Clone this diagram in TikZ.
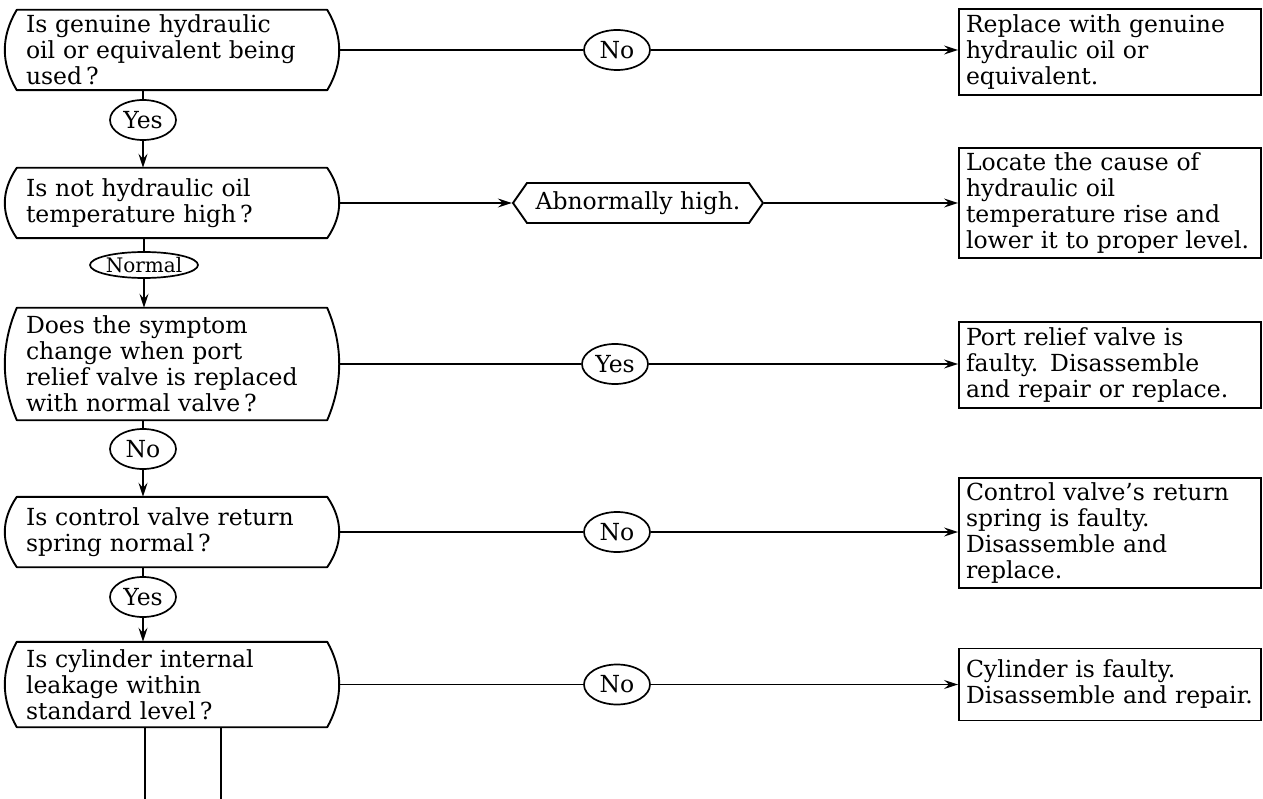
\documentclass[tikz,border=0pt]{standalone}
\usepackage{fontspec}
\setmainfont{DejaVu Serif}
\usetikzlibrary{arrows.meta,shapes.geometric,shapes.symbols,calc}
\newcommand\qoutline[1]{%
  \draw[qline] ($(#1.north west)+(12,0)$) -- ($(#1.north east)+(-12,0)$)
    .. controls ($(#1.north east)!0.333!(#1.south east)+(4,0)$) and ($(#1.north east)!0.667!(#1.south east)+(4,0)$) .. ($(#1.south east)+(-12,0)$)
    -- ($(#1.south west)+(12,0)$)
    .. controls ($(#1.south west)!0.333!(#1.north west)+(-4,0)$) and ($(#1.south west)!0.667!(#1.north west)+(-4,0)$) .. cycle;}
\begin{document}
\begin{tikzpicture}[x=1pt,y=-1pt,
  every node/.style={inner sep=0pt},
  txt/.style={font=\fontsize{23.5}{26}\selectfont},
  qbox/.style={txt, minimum width=334pt, text width=292pt, align=left},
  qline/.style={line width=1.9pt, line join=round},
  rbox/.style={txt, draw, line width=1.9pt, text width=288pt, inner xsep=7pt, align=left},
  oval/.style={txt, draw, ellipse, line width=1.7pt, minimum width=66pt, minimum height=40pt},
  conn/.style={line width=1.7pt},
  arr/.style={line width=1.7pt, -{Stealth[length=14pt,width=9pt,inset=5pt,open]}}
]
\fill[white] (0,0) rectangle (1263,799);
\useasboundingbox (0,0) rectangle (1263,799);

% question boxes
\node[qbox, minimum height=80pt] (q1) at (172,50) {Is genuine hydraulic\\oil or equivalent being\\used\,?};
\node[qbox, minimum height=70pt] (q2) at (172,203) {Is not hydraulic oil\\temperature high\,?};
\node[qbox, minimum height=112pt] (q3) at (172,364) {Does the symptom\\change when port\\relief valve is replaced\\with normal valve\,?};
\node[qbox, minimum height=70pt] (q4) at (172,532) {Is control valve return\\spring normal\,?};
\node[qbox, minimum height=85pt] (q5) at (172,684.5) {Is cylinder internal\\leakage within\\standard level\,?};
\qoutline{q1}\qoutline{q2}\qoutline{q3}\qoutline{q4}\qoutline{q5}

% vertical ovals
\node[oval] (v1) at (143,120) {Yes};
\node[oval, font=\fontsize{20}{22}\selectfont, minimum width=94pt, minimum height=26pt] (v2) at (144,265) {Normal};
\node[oval] (v3) at (143,449) {No};
\node[oval] (v4) at (143,597) {Yes};

\draw[conn] (v1 |- q1.south) -- (v1.north);
\draw[arr] (v1.south) -- (v1 |- q2.north);
\draw[conn] (v2 |- q2.south) -- (v2.north);
\draw[arr] (v2.south) -- (v2 |- q3.north);
\draw[conn] (v3 |- q3.south) -- (v3.north);
\draw[arr] (v3.south) -- (v3 |- q4.north);
\draw[conn] (v4 |- q4.south) -- (v4.north);
\draw[arr] (v4.south) -- (v4 |- q5.north);

\coordinate (b1) at (145,799);
\coordinate (b2) at (221,799);
\draw[conn] (b1 |- q5.south) -- (b1);
\draw[conn] (b2 |- q5.south) -- (b2);

% result boxes
\node[rbox, minimum height=86pt] (r1) at (1110,52) {Replace with genuine\\hydraulic oil or\\equivalent.};
\node[rbox, minimum height=110pt] (r2) at (1110,203) {Locate the cause of\\hydraulic oil\\temperature rise and\\lower it to proper level.};
\node[rbox, minimum height=86pt] (r3) at (1110,365) {Port relief valve is\\faulty. Disassemble\\and repair or replace.};
\node[rbox, minimum height=110pt] (r4) at (1110,533) {Control valve's return\\spring is faulty.\\Disassemble and\\replace.};
\node[rbox, minimum height=72pt] (r5) at (1110,684.5) {Cylinder is faulty.\\Disassemble and repair.};

% row labels
\node[oval] (h1) at (617,50) {No};
\node[txt, draw, line width=1.9pt, signal, signal to=west and east, signal pointer angle=110, minimum width=250pt, minimum height=40pt] (hx) at (638,203) {Abnormally high.};
\node[oval] (h3) at (615,364) {Yes};
\node[oval] (h4) at (617,532) {No};
\node[oval] (h5) at (617,684.5) {No};

\draw[conn] (q1.east) -- (h1.west);
\draw[arr] (h1.east) -- (h1 -| r1.west);
\draw[arr] (q2.east) -- (hx.west);
\draw[arr] (hx.east) -- (hx -| r2.west);
\draw[conn] (q3.east) -- (h3.west);
\draw[arr] (h3.east) -- (h3 -| r3.west);
\draw[conn] (q4.east) -- (h4.west);
\draw[arr] (h4.east) -- (h4 -| r4.west);
\draw[conn] (q5.east) -- (h5.west);
\draw[arr] (h5.east) -- (h5 -| r5.west);
\end{tikzpicture}
\end{document}
